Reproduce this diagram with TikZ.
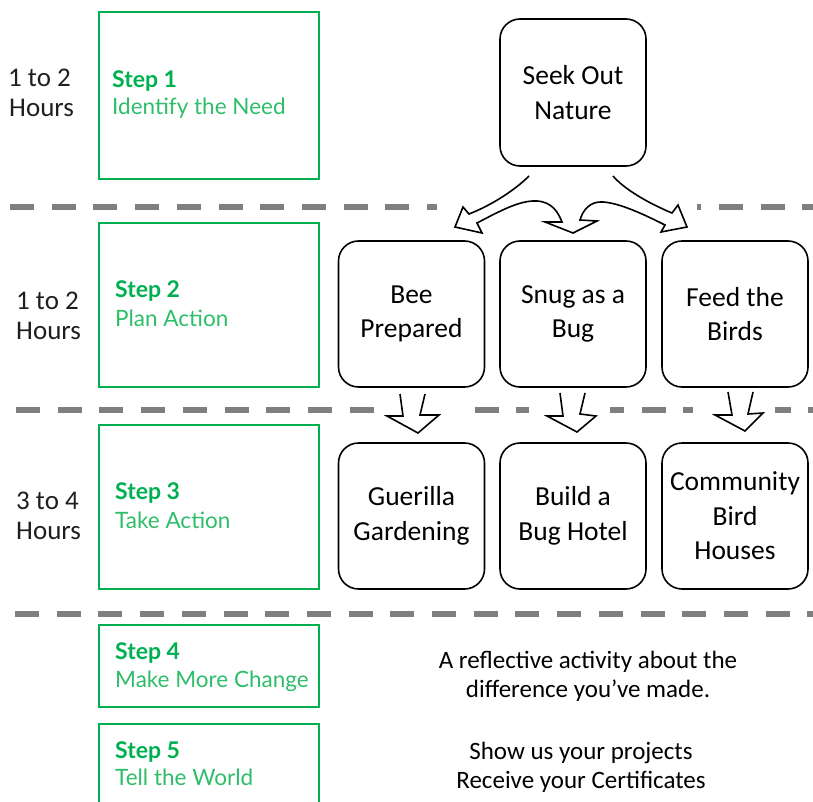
\documentclass[tikz,border=0pt]{standalone}
\usepackage{fontspec}
\setmainfont{Carlito}
\newfontfamily\lato{Lato}
\definecolor{stepgreen}{HTML}{00B050}
\definecolor{sublight}{HTML}{2EBD68}
\definecolor{dashgray}{HTML}{7F7F7F}
\begin{document}
\begin{tikzpicture}[x=1pt,y=-1pt,
  actbox/.style={draw=black, line width=1.6pt, rounded corners=20pt, minimum width=146pt, minimum height=146pt, align=center, font=\fontsize{27.5}{34.5}\selectfont, inner sep=0pt},
  stepbox/.style={draw=stepgreen, line width=1.6pt, minimum width=220pt, inner sep=0pt},
  steptitle/.style={anchor=base west, inner sep=0pt, text=stepgreen, font=\lato\bfseries\fontsize{23}{27}\selectfont},
  stepsub/.style={anchor=base west, inner sep=0pt, text=sublight, font=\lato\fontsize{22.5}{27}\selectfont},
  hours/.style={anchor=base west, inner sep=0pt, text=black!88, font=\fontsize{27}{30}\selectfont},
  divider/.style={dashgray, line width=5.5pt, dash pattern=on 24pt off 17.7pt},
  blockarrow/.style={draw=black, fill=white, line width=1.6pt, line join=miter},
  note/.style={align=center, font=\fontsize{25}{29}\selectfont, inner sep=0pt}
]
\useasboundingbox (0,0) rectangle (813,802);
% dividers
\draw[divider] (10,207) -- (813,207);
\draw[divider] (16,410) -- (813,410);
\draw[divider] (15,614) -- (813,614);
% occluding backgrounds of the arrows
\fill[white] (437,200) rectangle (697,214);
\fill[white] (380,403) rectangle (462,417);
\fill[white] (529,403) rectangle (610,417);
\fill[white] (693,403) rectangle (775,417);
% hours labels
\node[hours] (h1a) at (8,87) {1 to 2};
\node[hours] (h1b) at (9,117) {Hours};
\node[hours] (h2a) at (16,309) {1 to 2};
\node[hours] (h2b) at (16,339) {Hours};
\node[hours] (h3a) at (16,509) {3 to 4};
\node[hours] (h3b) at (16,539) {Hours};
% step boxes
\node[stepbox, minimum height=167pt] (s1) at (209,95.5) {};
\node[stepbox, minimum height=164pt] (s2) at (209,305) {};
\node[stepbox, minimum height=164pt] (s3) at (209,507) {};
\node[stepbox, minimum height=82pt] (s4) at (209,666) {};
\node[stepbox, minimum height=90pt] (s5) at (209,769) {};
\node[steptitle] (t1) at (112,88) {Step 1};
\node[stepsub] (u1) at (112,115) {Identify the Need};
\node[steptitle] (t2) at (115,297) {Step 2};
\node[stepsub] (u2) at (115,326) {Plan Action};
\node[steptitle] (t3) at (115,499) {Step 3};
\node[stepsub] (u3) at (115,528) {Take Action};
\node[steptitle] (t4) at (115,659) {Step 4};
\node[stepsub] (u4) at (115,687) {Make More Change};
\node[steptitle] (t5) at (115,758) {Step 5};
\node[stepsub] (u5) at (115,785) {Tell the World};
% activity boxes
\node[actbox, minimum height=147pt] (seek) at (573,92.5) {Seek Out\\Nature};
\node[actbox] (bee) at (411.5,314) {Bee\\Prepared};
\node[actbox] (snug) at (573,314) {Snug as a\\Bug};
\node[actbox] (feed) at (735,314) {Feed the\\Birds};
\node[actbox] (guer) at (411.5,516) {Guerilla\\Gardening};
\node[actbox] (hotel) at (573,516) {Build a\\Bug Hotel};
\node[actbox] (comm) at (735,516) {Community\\Bird\\Houses};
% split curved arrow
\path[blockarrow] (529,176) .. controls (515,190) and (492,205) .. (469,214)
  -- (463,207) -- (455,227) -- (482,233) -- (477,223)
  .. controls (500,211) and (520,200) .. (537,201)
  .. controls (552,202) and (558,212) .. (562,222)
  -- (545,222) -- (573,233) -- (597,221) -- (580,220)
  .. controls (583,210) and (590,201) .. (603,202)
  .. controls (620,203) and (645,215) .. (665,225)
  -- (661,232) -- (687,227) -- (678,205) -- (672,213)
  .. controls (648,203) and (624,189) .. (613,176);
% down arrows
\path[blockarrow] (400,394) -- (403,416) -- (387,416) -- (418,433) -- (439,415) -- (420,415) -- (425,394);
\path[blockarrow] (560,393) -- (563,416) -- (547,416) -- (577,432) -- (596,416) -- (580,414) -- (585,393);
\path[blockarrow] (728,392) -- (732,415) -- (715,415) -- (745,431) -- (763,413) -- (748,414) -- (753,392);
% notes
\node[note] (n1) at (588,676) {A reflective activity about the\\difference you’ve made.};
\node[note] (n2) at (581,767) {Show us your projects\\Receive your Certificates};
\end{tikzpicture}
\end{document}
